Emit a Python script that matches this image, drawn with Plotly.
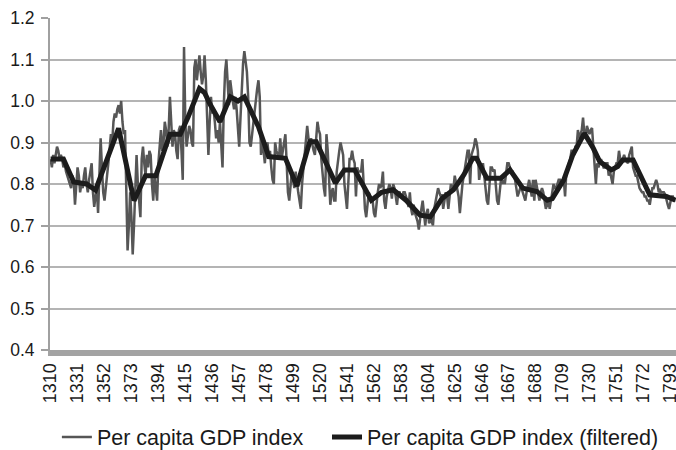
import plotly.graph_objects as go

# Per capita GDP index, yearly values (from 1310)
gdp_index = (
    [0.86, 0.84, 0.87, 0.85, 0.87, 0.89, 0.88, 0.86, 0.87, 0.86]
    + [0.84, 0.85, 0.83, 0.82, 0.81, 0.80, 0.79, 0.82, 0.81, 0.75]
    + [0.80, 0.84, 0.82, 0.78, 0.80, 0.79, 0.82, 0.84, 0.80, 0.78]
    + [0.81, 0.83, 0.85, 0.78, 0.745, 0.77, 0.79, 0.73, 0.84]
    + [0.91, 0.84, 0.78, 0.76, 0.80, 0.82, 0.85, 0.88, 0.92, 0.90]
    + [0.95, 0.97, 0.96, 0.98, 0.99, 0.97, 1.00, 0.95, 0.92, 0.93]
    + [0.80, 0.64, 0.70, 0.78, 0.72, 0.63, 0.70, 0.80, 0.87, 0.80]
    + [0.75, 0.72, 0.86, 0.89, 0.85, 0.82, 0.87, 0.84, 0.88, 0.87]
    + [0.80, 0.76, 0.82, 0.79, 0.76, 0.85, 0.90, 0.93, 0.88]
    + [0.90, 0.95, 0.93, 0.89, 0.93, 1.01, 0.96, 0.89, 0.93, 0.92]
    + [0.88, 0.86, 0.93, 0.94, 0.88, 0.81, 1.13, 0.95, 0.89, 0.92]
    + [0.94, 0.93, 0.90, 0.89, 1.08, 1.10, 1.05, 1.08, 1.11, 1.07]
    + [1.04, 1.06, 1.11, 1.05, 0.95, 0.87, 0.95, 1.01, 0.97, 0.98]
    + [0.95, 0.91, 0.93, 0.90, 0.95, 0.88, 0.84, 0.99, 1.07]
    + [1.10, 1.05, 0.99, 1.05, 1.02, 1.00, 0.98, 1.01, 0.98, 0.93]
    + [0.89, 0.96, 1.03, 1.09, 1.12, 1.10, 1.07, 1.01, 0.90, 0.89]
    + [0.92, 0.95, 0.98, 1.00, 1.03, 1.05, 1.01, 0.87, 0.91, 0.88]
    + [0.85, 0.89, 0.90, 0.87, 0.88, 0.84, 0.81, 0.80, 0.90, 0.88]
    + [0.87, 0.86, 0.91, 0.86, 0.88, 0.90, 0.92, 0.85, 0.78]
    + [0.76, 0.80, 0.83, 0.81, 0.79, 0.83, 0.80, 0.78, 0.76, 0.74]
    + [0.80, 0.84, 0.86, 0.92, 0.94, 0.91, 0.90, 0.91, 0.89, 0.88]
    + [0.87, 0.91, 0.95, 0.93, 0.92, 0.86, 0.82, 0.79, 0.77, 0.92]
    + [0.88, 0.80, 0.75, 0.78, 0.79, 0.76, 0.76, 0.83, 0.86, 0.88]
    + [0.90, 0.88, 0.87, 0.80, 0.76, 0.74, 0.80, 0.86, 0.86]
    + [0.88, 0.86, 0.85, 0.77, 0.84, 0.83, 0.83, 0.83, 0.86, 0.78]
    + [0.74, 0.72, 0.75, 0.78, 0.77, 0.76, 0.76, 0.73, 0.72, 0.76]
    + [0.78, 0.80, 0.79, 0.80, 0.83, 0.76, 0.74, 0.77, 0.79, 0.80]
    + [0.79, 0.765, 0.80, 0.79, 0.77, 0.75, 0.78, 0.78, 0.77, 0.77]
    + [0.78, 0.78, 0.77, 0.76, 0.745, 0.78, 0.74, 0.725, 0.75]
    + [0.73, 0.72, 0.71, 0.69, 0.72, 0.74, 0.76, 0.72, 0.70, 0.73]
    + [0.74, 0.705, 0.72, 0.71, 0.70, 0.74, 0.76, 0.78, 0.79, 0.78]
    + [0.77, 0.775, 0.74, 0.76, 0.78, 0.77, 0.74, 0.77, 0.80, 0.79]
    + [0.79, 0.82, 0.80, 0.79, 0.77, 0.73, 0.77, 0.80, 0.82, 0.84]
    + [0.87, 0.88, 0.88, 0.80, 0.87, 0.88, 0.89, 0.91, 0.90]
    + [0.88, 0.81, 0.83, 0.84, 0.85, 0.82, 0.78, 0.76, 0.75, 0.80]
    + [0.84, 0.84, 0.83, 0.835, 0.80, 0.76, 0.75, 0.78, 0.81, 0.80]
    + [0.81, 0.80, 0.83, 0.85, 0.85, 0.84, 0.83, 0.83, 0.82, 0.81]
    + [0.79, 0.77, 0.78, 0.79, 0.79, 0.78, 0.77, 0.76, 0.78, 0.80]
    + [0.81, 0.79, 0.77, 0.81, 0.76, 0.81, 0.79, 0.77, 0.76]
    + [0.78, 0.79, 0.78, 0.76, 0.74, 0.75, 0.76, 0.74, 0.76, 0.79]
    + [0.80, 0.79, 0.79, 0.80, 0.81, 0.81, 0.80, 0.80, 0.81, 0.77]
    + [0.83, 0.84, 0.85, 0.86, 0.88, 0.88, 0.87, 0.89, 0.89, 0.93]
    + [0.91, 0.92, 0.93, 0.96, 0.92, 0.91, 0.94, 0.93, 0.92, 0.93]
    + [0.935, 0.89, 0.85, 0.80, 0.85, 0.84, 0.85, 0.86, 0.85]
    + [0.84, 0.84, 0.85, 0.85, 0.82, 0.83, 0.81, 0.80, 0.83, 0.84]
    + [0.85, 0.85, 0.88, 0.86, 0.85, 0.86, 0.87, 0.86, 0.855, 0.85]
    + [0.87, 0.88, 0.89, 0.84, 0.83, 0.82, 0.82, 0.80, 0.79, 0.785]
    + [0.78, 0.78, 0.77, 0.77, 0.76, 0.76, 0.75, 0.77, 0.79, 0.79]
    + [0.80, 0.81, 0.80, 0.78, 0.785, 0.78, 0.78, 0.78, 0.775]
    + [0.76, 0.75, 0.74, 0.76, 0.77, 0.77, 0.76, 0.76]
)
first_year = 1310
years = list(range(first_year, first_year + len(gdp_index)))

# Filtered series (turning points)
filt_years = [1310, 1320, 1328, 1338, 1345, 1363, 1375, 1384, 1392, 1403,
              1411, 1417, 1426, 1430, 1434, 1442, 1450, 1456, 1461, 1472,
              1480, 1493, 1502, 1512, 1517, 1532, 1539, 1547, 1560, 1568,
              1577, 1587, 1598, 1606, 1615, 1624, 1632, 1639, 1642, 1650,
              1661, 1668, 1678, 1689, 1697, 1701, 1710, 1717, 1726, 1733,
              1738, 1747, 1752, 1756, 1764, 1769, 1777, 1790, 1797]
filt_vals = [0.86, 0.86, 0.805, 0.80, 0.785, 0.934, 0.76, 0.82, 0.82, 0.92,
             0.92, 0.96, 1.03, 1.02, 0.994, 0.95, 1.01, 1.00, 1.01, 0.938,
             0.866, 0.862, 0.795, 0.902, 0.902, 0.802, 0.834, 0.834, 0.761, 0.78,
             0.786, 0.761, 0.725, 0.721, 0.765, 0.786, 0.822, 0.862, 0.862, 0.814,
             0.814, 0.834, 0.790, 0.782, 0.761, 0.765, 0.810, 0.870, 0.922, 0.886,
             0.854, 0.834, 0.842, 0.858, 0.858, 0.826, 0.774, 0.770, 0.761]

tick_years = list(range(1310, 1800, 21))
tick_labels = [str(y) for y in tick_years]

font_family = "Liberation Sans, Arial, sans-serif"
legend_font = dict(size=21.5, family=font_family, color="#1a1a1a")

fig = go.Figure()
fig.add_trace(go.Scatter(
    x=years, y=gdp_index, mode="lines", name="Per capita GDP index",
    line=dict(color="#565656", width=2.5), legend="legend",
))
fig.add_trace(go.Scatter(
    x=filt_years, y=filt_vals, mode="lines", name="Per capita GDP index (filtered)",
    line=dict(color="#1c1c1c", width=5), legend="legend2",
))

fig.update_layout(
    width=676, height=450,
    margin=dict(l=50, r=0, t=18, b=100, autoexpand=False),
    paper_bgcolor="white", plot_bgcolor="white",
    font=dict(family=font_family, color="#1a1a1a", size=17),
    showlegend=True,
    legend=dict(
        orientation="h", x=0.011, xanchor="left", y=-0.262, yanchor="middle",
        font=legend_font, bgcolor="rgba(0,0,0,0)",
    ),
    legend2=dict(
        orientation="h", x=0.4425, xanchor="left", y=-0.262, yanchor="middle",
        font=legend_font, bgcolor="rgba(0,0,0,0)",
    ),
    xaxis=dict(
        range=[1309.53, 1797.45], automargin=False,
        tickmode="array", tickvals=tick_years, ticktext=tick_labels,
        tickangle=-90, tickfont=dict(size=18), ticklabeloverflow="allow",
        showgrid=False, zeroline=False,
        showline=True, linecolor="#a3a3a3", linewidth=6,
        ticks="", ticklen=0,
    ),
    yaxis=dict(
        range=[0.4, 1.2], dtick=0.1, tick0=0.4, tickformat=".1f", automargin=False,
        tickfont=dict(size=17.5), ticklabelstandoff=3,
        showgrid=True, gridcolor="#b4b4b4", gridwidth=1.5,
        zeroline=False,
        showline=True, linecolor="#a0a0a0", linewidth=2,
        ticks="outside", ticklen=7, tickcolor="#a0a0a0", tickwidth=1.5,
    ),
)

fig.write_html(
    "out.html",
    config={"displayModeBar": False},
    post_script="document.body.style.margin='0px';document.body.style.overflow='hidden';",
)
